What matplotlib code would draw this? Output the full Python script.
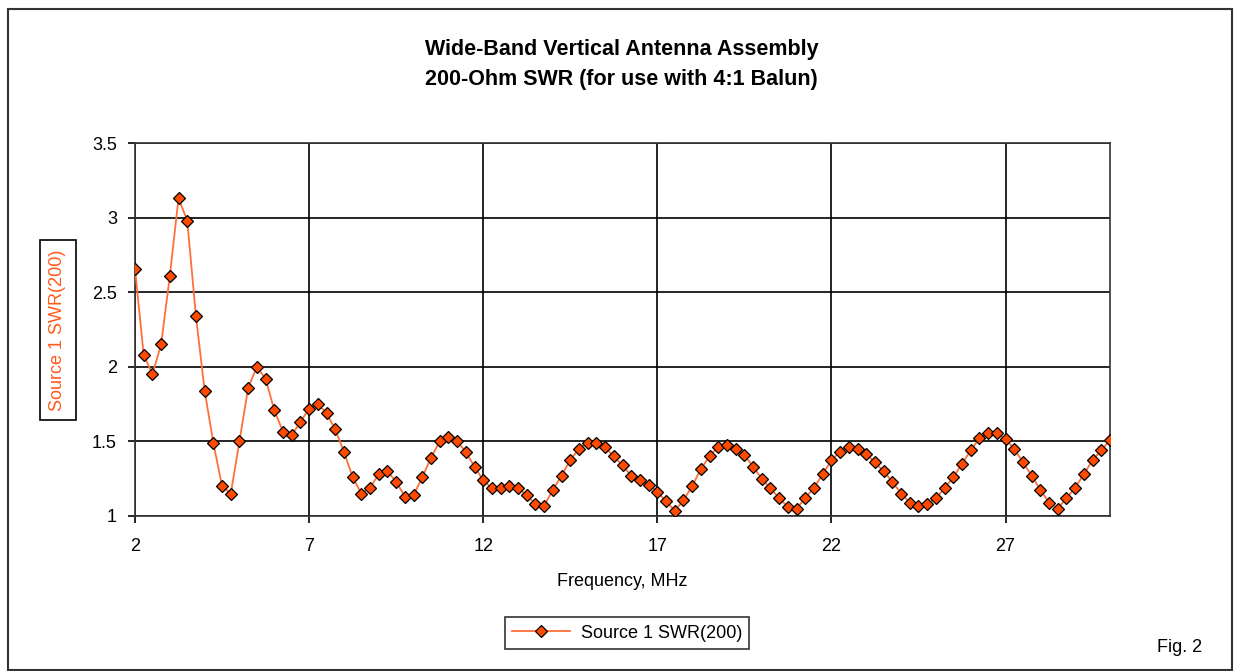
import numpy as np
import matplotlib
matplotlib.use("Agg")
import matplotlib.pyplot as plt
from matplotlib.patches import Rectangle

# SWR sweep, 2 to 30 MHz in 0.25 MHz steps
freq_start = 2.0
freq_step = 0.25
swr = [
    2.655, 2.08, 1.95, 2.15, 2.61, 3.13, 2.98, 2.34, 1.84, 1.49,
    1.20, 1.15, 1.50, 1.86, 2.00, 1.92, 1.71, 1.565, 1.54, 1.63,
    1.72, 1.75, 1.69, 1.58, 1.43, 1.26, 1.15, 1.19, 1.28, 1.30,
    1.23, 1.13, 1.14, 1.26, 1.39, 1.50, 1.53, 1.50, 1.43, 1.33,
    1.24, 1.185, 1.185, 1.20, 1.185, 1.14, 1.08, 1.07, 1.175, 1.27,
    1.375, 1.45, 1.49, 1.49, 1.46, 1.40, 1.34, 1.27, 1.24, 1.21,
    1.16, 1.10, 1.035, 1.105, 1.20, 1.315, 1.40, 1.465, 1.475, 1.45,
    1.41, 1.33, 1.25, 1.185, 1.12, 1.06, 1.05, 1.12, 1.19, 1.28,
    1.375, 1.43, 1.465, 1.45, 1.415, 1.36, 1.30, 1.23, 1.15, 1.09,
    1.07, 1.08, 1.12, 1.185, 1.26, 1.35, 1.44, 1.52, 1.555, 1.555,
    1.515, 1.45, 1.36, 1.27, 1.175, 1.09, 1.05, 1.12, 1.19, 1.28,
    1.375, 1.44, 1.51,
]
freq = freq_start + freq_step * np.arange(len(swr))

x_ticks = [2, 7, 12, 17, 22, 27]
y_ticks = [1, 1.5, 2, 2.5, 3, 3.5]
y_tick_labels = ["1", "1.5", "2", "2.5", "3", "3.5"]

plt.rcParams['font.family'] = ['Liberation Sans', 'DejaVu Sans']
narrow = ['Liberation Sans Narrow', 'Liberation Sans', 'DejaVu Sans']

fig = plt.figure(figsize=(12.36, 6.71), dpi=100)
ax = fig.add_axes([135/1236, 1 - 516/671, (1110 - 135)/1236, (516 - 143)/671])

line, = ax.plot(freq, swr, color='#ff7038', linewidth=1.3,
                marker='D', markersize=6, markerfacecolor='#ff4a00',
                markeredgecolor='black', markeredgewidth=0.9,
                label='Source 1 SWR(200)', zorder=3)

ax.set_xlim(2, 30)
ax.set_ylim(1, 3.5)
ax.set_xticks(x_ticks)
ax.set_yticks(y_ticks)
ax.set_yticklabels(y_tick_labels)
ax.grid(True, color='black', linewidth=1.2)
ax.set_axisbelow(True)
for s in ax.spines.values():
    s.set_linewidth(1.2)
    s.set_color('#333333')
ax.tick_params(axis='both', direction='out', length=5, width=1.2,
               labelsize=13, colors='black')
ax.tick_params(axis='x', pad=11)
ax.tick_params(axis='y', pad=8)

ax.set_xlabel('Frequency, MHz', fontsize=13, labelpad=13)

# title
fig.text(0.503, 1 - 50/671, 'Wide-Band Vertical Antenna Assembly',
         ha='center', va='center', fontsize=15.5, fontweight='bold', family=narrow)
fig.text(0.503, 1 - 80/671, '200-Ohm SWR (for use with 4:1 Balun)',
         ha='center', va='center', fontsize=15.5, fontweight='bold', family=narrow)

# boxed y label
fig.text(58/1236, 1 - 330/671, 'Source 1 SWR(200)', rotation=90,
         ha='center', va='center', fontsize=13, color='#ff5a1a',
         bbox=dict(boxstyle='square,pad=0.5', facecolor='white',
                   edgecolor='black', linewidth=1.2))

leg = ax.legend(loc='center', bbox_to_anchor=(627/1236, 1 - 633/671),
                bbox_transform=fig.transFigure, fontsize=13, frameon=True,
                fancybox=False, edgecolor='black', handlelength=3.2,
                borderpad=0.4, handletextpad=0.6)
leg.get_frame().set_linewidth(1.2)

fig.text(1180/1236, 1 - 648/671, 'Fig. 2', ha='center', va='center', fontsize=13)

# outer frame
fig.patches.append(Rectangle((8/1236, 1/671), (1232 - 8)/1236, (670 - 9)/671,
                             transform=fig.transFigure, fill=False,
                             edgecolor='#333333', linewidth=1.5))

fig.savefig('out.png', dpi=100)
